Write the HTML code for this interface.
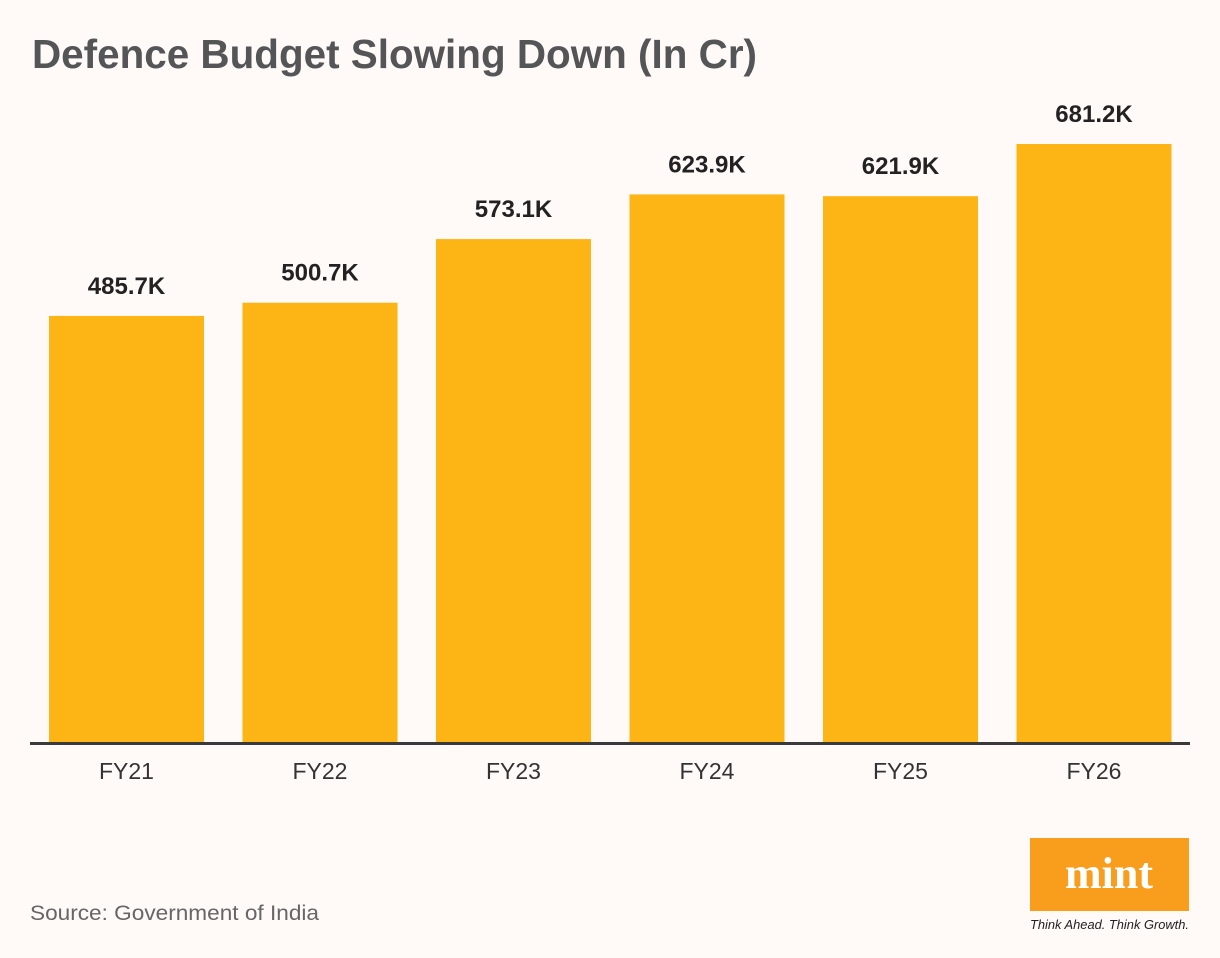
<!DOCTYPE html>
<html><head><meta charset="utf-8"><style>
html,body{margin:0;padding:0;background:#fff9f8;}
svg{display:block;font-family:"Liberation Sans",sans-serif;}
</style></head><body>
<svg id="chart" width="1220" height="958" viewBox="0 0 1220 958">
<rect x="0" y="0" width="1220" height="958" fill="#fff9f8"/>
<text x="32" y="68" font-size="41" font-weight="bold" fill="#545557" textLength="725" lengthAdjust="spacingAndGlyphs">Defence Budget Slowing Down (In Cr)</text>
<g id="bars"></g>
<line x1="30" y1="743.5" x2="1190" y2="743.5" stroke="#3a3a3a" stroke-width="3"/>
<text x="30" y="920" font-size="21" fill="#666" textLength="289" lengthAdjust="spacingAndGlyphs">Source: Government of India</text>
<g>
<rect x="1030" y="838" width="159" height="73" fill="#f99d1c"/>
<text x="1109" y="888" font-size="44" font-weight="bold" fill="#fff" text-anchor="middle" font-family="Liberation Serif,serif">mint</text>
<text x="1030" y="929" font-size="13" font-style="italic" fill="#222" textLength="159" lengthAdjust="spacingAndGlyphs">Think Ahead. Think Growth.</text>
</g>
</svg>
<script>
const categories = ["FY21","FY22","FY23","FY24","FY25","FY26"];
const values = [485.7,500.7,573.1,623.9,621.9,681.2];
const valueLabels = ["485.7K","500.7K","573.1K","623.9K","621.9K","681.2K"];
const NS = "http://www.w3.org/2000/svg";
const g = document.getElementById("bars");
const baseY = 743, pxPerUnit = 0.8793;
const x0 = 49, pitch = 193.5, bw = 155;
function yScale(v){ return baseY - v*pxPerUnit; }
function xScale(i){ return x0 + i*pitch; }
categories.forEach((c,i)=>{
  const x = xScale(i), y = yScale(values[i]);
  const r = document.createElementNS(NS,"rect");
  r.setAttribute("x",x); r.setAttribute("y",y);
  r.setAttribute("width",bw); r.setAttribute("height",baseY-y);
  r.setAttribute("fill","#fdb515");
  
  
  g.appendChild(r);
  const t = document.createElementNS(NS,"text");
  t.setAttribute("x",x+bw/2); t.setAttribute("y",y-22);
  t.setAttribute("text-anchor","middle"); t.setAttribute("font-size","24");
  t.setAttribute("font-weight","bold"); t.setAttribute("fill","#222");
  t.textContent = valueLabels[i];
  
  
  g.appendChild(t);
  const l = document.createElementNS(NS,"text");
  l.setAttribute("x",x+bw/2); l.setAttribute("y",779);
  l.setAttribute("text-anchor","middle"); l.setAttribute("font-size","23");
  l.setAttribute("fill","#333");
  l.textContent = c;
  
  
  g.appendChild(l);
});
</script>
</body></html>
